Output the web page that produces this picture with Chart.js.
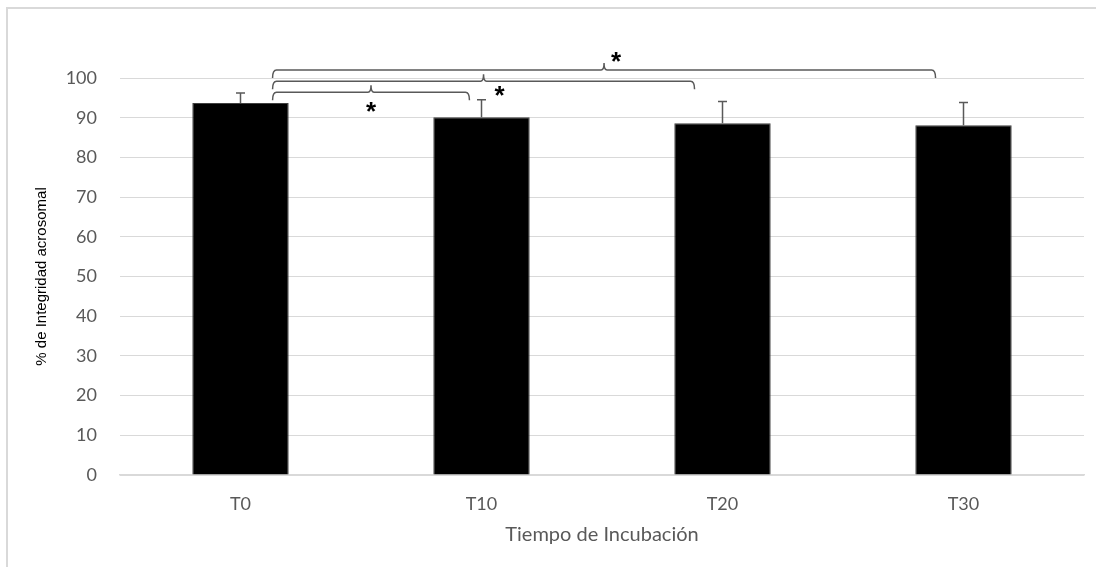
<!DOCTYPE html>
<html>
<head>
<meta charset="utf-8">
<script src="https://cdn.jsdelivr.net/npm/chart.js@4"></script>
<style>
  body { margin: 0; background: #fff; }
  #wrap { width: 1096px; height: 567px; position: relative; }
</style>
</head>
<body>
<div id="wrap"><canvas id="chart"></canvas></div>
<script>
// Integridad acrosomal por tiempo de incubación
const tiempos = ['T0', 'T10', 'T20', 'T30'];
const integridad = [93.7, 90.1, 88.6, 88.1];
const desvio = [2.5, 4.4, 5.5, 5.7];
const yTicks = [0, 10, 20, 30, 40, 50, 60, 70, 80, 90, 100];

// Comparaciones significativas (posiciones en unidades de categoría)
const llaveDesde = [0.133, 0.133, 0.133];
const llaveHasta = [0.95, 1.884, 2.884];
const llaveNivel = [96.4, 99.2, 102.0];
const llaveEstrella = ['abajo', 'derecha', 'arriba'];

const GRIS = '#595959';

// Marco gris claro alrededor de la figura
const marco = {
  id: 'marco',
  beforeDraw(chart) {
    const ctx = chart.ctx;
    ctx.save();
    ctx.strokeStyle = '#d9d9d9';
    ctx.lineWidth = 2;
    ctx.beginPath();
    ctx.moveTo(7, chart.height);
    ctx.lineTo(7, 8);
    ctx.lineTo(chart.width, 8);
    ctx.stroke();
    ctx.restore();
  }
};

// Barras de error (solo hacia arriba)
const barrasError = {
  id: 'barrasError',
  afterDatasetsDraw(chart) {
    const ctx = chart.ctx;
    const x = chart.scales.x, y = chart.scales.y;
    ctx.save();
    ctx.strokeStyle = GRIS;
    ctx.lineWidth = 1.5;
    integridad.forEach((v, i) => {
      const px = x.getPixelForValue(i);
      const top = y.getPixelForValue(v + desvio[i]);
      const base = y.getPixelForValue(v);
      ctx.beginPath();
      ctx.moveTo(px, base);
      ctx.lineTo(px, top);
      ctx.moveTo(px - 4.5, top);
      ctx.lineTo(px + 4.5, top);
      ctx.stroke();
    });
    ctx.restore();
  }
};

// Llaves de comparación con asterisco
const llaves = {
  id: 'llaves',
  afterDraw(chart) {
    const ctx = chart.ctx;
    const x = chart.scales.x, y = chart.scales.y;
    ctx.save();
    ctx.strokeStyle = GRIS;
    ctx.lineWidth = 1.5;
    llaveDesde.forEach((d, i) => {
      const x1 = x.getPixelForValue(llaveDesde[i]);
      const x2 = x.getPixelForValue(llaveHasta[i]);
      const py = y.getPixelForValue(llaveNivel[i]);
      const mid = (x1 + x2) / 2;
      ctx.beginPath();
      ctx.moveTo(x1, py + 8);
      ctx.quadraticCurveTo(x1, py, x1 + 4, py);
      ctx.lineTo(mid - 3, py);
      ctx.quadraticCurveTo(mid, py, mid, py - 7);
      ctx.quadraticCurveTo(mid, py, mid + 3, py);
      ctx.lineTo(x2 - 4, py);
      ctx.quadraticCurveTo(x2, py, x2, py + 8);
      ctx.stroke();

      let sx = mid, sy = py;
      if (llaveEstrella[i] === 'abajo') { sy = py + 16; }
      else if (llaveEstrella[i] === 'derecha') { sx = mid + 16; sy = py + 11; }
      else { sx = mid + 12; sy = py - 12; }
      ctx.fillStyle = '#000';
      ctx.font = 'bold 26px "Liberation Sans", Arial, sans-serif';
      ctx.textAlign = 'center';
      ctx.textBaseline = 'middle';
      ctx.fillText('*', sx, sy + 5);
    });
    ctx.restore();
  }
};

const ctx = document.getElementById('chart').getContext('2d');
new Chart(ctx, {
  type: 'bar',
  data: {
    labels: tiempos,
    datasets: [{
      data: integridad,
      backgroundColor: '#000',
      borderColor: '#404040',
      borderWidth: 1,
      categoryPercentage: 1,
      barPercentage: 0.4
    }]
  },
  options: {
    responsive: true,
    maintainAspectRatio: false,
    animation: false,
    layout: { padding: { top: 78, right: 12, left: 0, bottom: 0 } },
    plugins: {
      legend: { display: false },
      tooltip: { enabled: false }
    },
    scales: {
      x: {
        grid: { display: false, drawTicks: false },
        border: { color: '#d9d9d9', width: 1.5 },
        ticks: {
          color: GRIS,
          padding: 18,
          font: { family: 'Lato', size: 18 }
        },
        title: {
          display: true,
          text: 'Tiempo de Incubación',
          color: GRIS,
          font: { family: 'Lato', size: 20 },
          padding: { top: 0, bottom: 20 }
        },
        afterFit(scale) { scale.height = 92; }
      },
      y: {
        min: 0,
        max: 100,
        afterBuildTicks(scale) { scale.ticks = yTicks.map(v => ({ value: v })); },
        grid: { color: '#d9d9d9', lineWidth: 1, drawTicks: false },
        border: { display: false },
        ticks: {
          color: GRIS,
          padding: 23,
          font: { family: 'Lato', size: 18 }
        },
        title: {
          display: true,
          text: '% de Integridad acrosomal',
          color: '#000',
          font: { family: '"Liberation Sans", Arial, sans-serif', size: 15 },
          padding: { top: 33, bottom: 0 }
        },
        afterFit(scale) { scale.width = 120; }
      }
    }
  },
  plugins: [marco, barrasError, llaves]
});
</script>
</body>
</html>
